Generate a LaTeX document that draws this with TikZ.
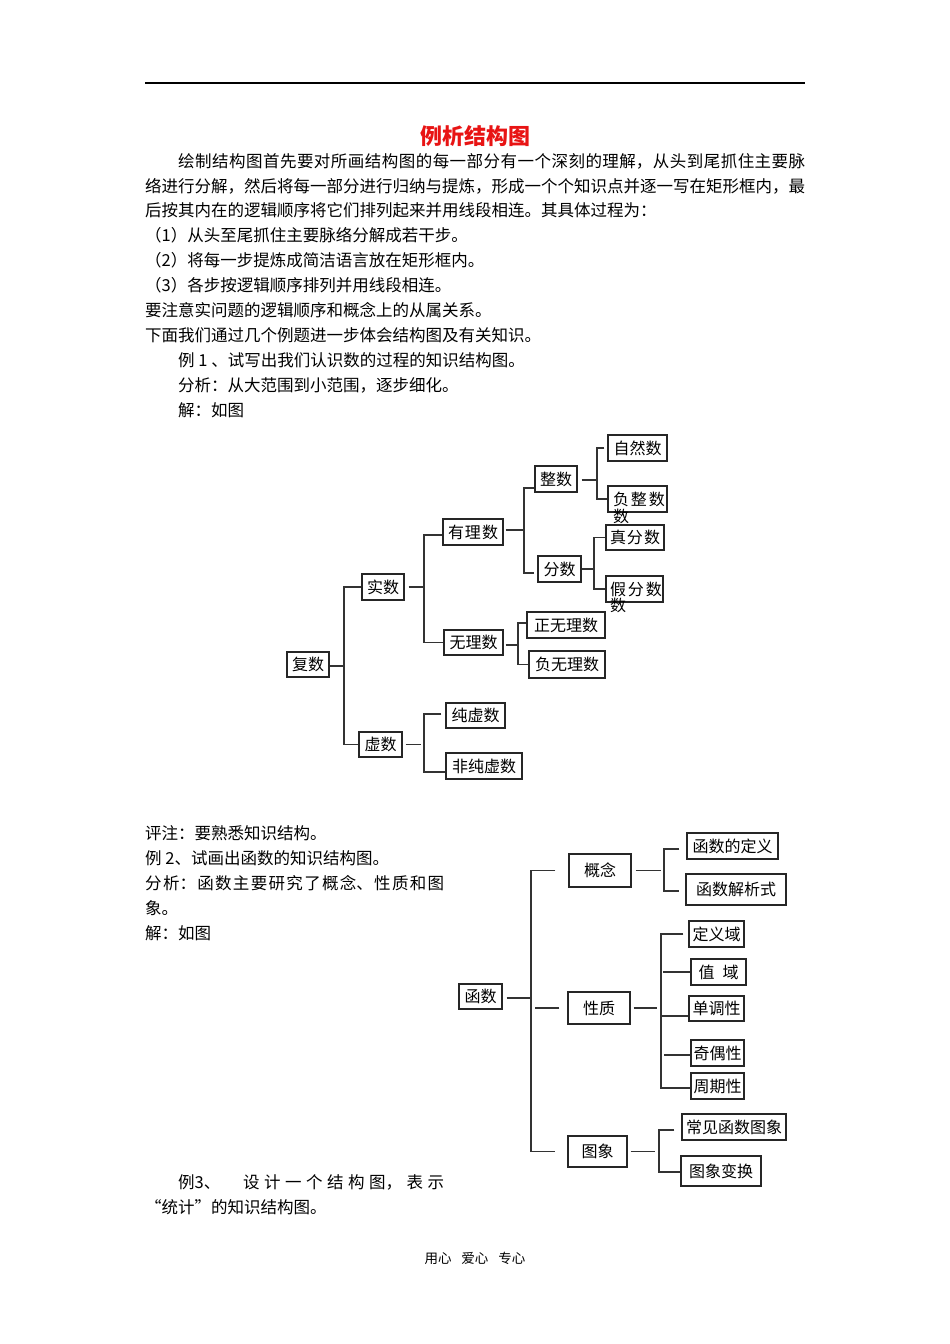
\documentclass[tikz,border=0pt]{standalone}
\usepackage{fontspec}
\setmainfont{Noto Sans CJK SC}
\definecolor{titlered}{RGB}{232,20,20}
\newcommand\jl[2]{\parbox[t]{#1}{\XeTeXlinebreaklocale "zh"\XeTeXlinebreakskip=0pt plus 5pt minus 1pt\parfillskip=0pt\parindent=0pt\leftskip=0pt\rightskip=0pt\noindent #2}}
\newcommand\bx[6]{\node[bx,minimum width={(#4-#2)*1pt},minimum height={(#5-#3)*1pt}] (#1) at ({(#2+#4)/2},{(#3+#5)/2}) {#6};}
\tikzset{
  bx/.style={draw=black!85, line width=1.3pt, inner sep=0pt, font=\fontsize{16}{19}\selectfont},
  ln/.style={draw=black!80, line width=1.3pt},
  tl/.style={anchor=base west, inner sep=0pt}
}
\begin{document}
\begin{tikzpicture}[x=1pt,y=-1pt,font=\fontsize{16.5}{20}\selectfont]
\useasboundingbox[fill=white] (0,0) rectangle (950,1344);
% header rule
\draw[line width=1.3pt] (145,83) -- (805,83);
% title
\node[font=\fontsize{22}{26}\selectfont\bfseries, text=titlered] (title) at (475,136) {例析结构图};
% body text
\node[tl] (t1) at (178,167) {\jl{627pt}{绘制结构图首先要对所画结构图的每一部分有一个深刻的理解，从头到尾抓住主要脉}};
\node[tl] (t2) at (145,192) {\jl{660pt}{络进行分解，然后将每一部分进行归纳与提炼，形成一个个知识点并逐一写在矩形框内，最}};
\node[tl] (t3) at (145,216) {后按其内在的逻辑顺序将它们排列起来并用线段相连。其具体过程为：};
\node[tl] (t4) at (145,241) {（1）从头至尾抓住主要脉络分解成若干步。};
\node[tl] (t5) at (145,266) {（2）将每一步提炼成简洁语言放在矩形框内。};
\node[tl] (t6) at (145,291) {（3）各步按逻辑顺序排列并用线段相连。};
\node[tl] (t7) at (145,316) {要注意实问题的逻辑顺序和概念上的从属关系。};
\node[tl] (t8) at (145,341) {下面我们通过几个例题进一步体会结构图及有关知识。};
\node[tl] (t9) at (178,366) {例 1 、试写出我们认识数的过程的知识结构图。};
\node[tl] (t10) at (178,391) {分析：从大范围到小范围，逐步细化。};
\node[tl] (t11) at (178,416) {解：如图};
% tree 1 boxes
\bx{fushu}{287}{652}{329}{677}{复数}
\bx{shishu}{362}{574}{404}{600}{实数}
\bx{xushu}{359}{732}{402}{757}{虚数}
\bx{youli}{443}{519}{503}{545}{有\kern1pt 理\kern1pt 数}
\bx{wuli}{444}{630}{503}{655}{无理数}
\bx{chunxu}{446}{703}{505}{728}{纯虚数}
\bx{feichunxu}{446}{753}{522}{779}{非纯虚数}
\bx{zhengshu}{535}{466}{577}{492}{整数}
\bx{fenshu}{538}{556}{581}{582}{分数}
\bx{ziran}{608}{435}{667}{461}{自然数}
\bx{fuzheng}{608}{486}{667}{512}{\hspace{3pt}负\kern2pt 整\kern2pt 数}
\bx{zhenfen}{606}{525}{664}{550}{真\kern1pt 分\kern1pt 数}
\bx{jiafen}{606}{576}{663}{602}{\hspace{3pt}假\kern2pt 分\kern2pt 数}
\bx{zhengwu}{527}{612}{605}{638}{正无理数}
\bx{fuwu}{529}{651}{605}{678}{负无理数}
\node[font=\fontsize{16}{19}\selectfont, inner sep=0pt] (fzx) at (621,516) {数};
\node[font=\fontsize{16}{19}\selectfont, inner sep=0pt] (jfx) at (618,605) {数};
% tree 1 spines
\coordinate (s1) at (344,0);
\coordinate (s2) at (424,0);
\coordinate (s3) at (524,0);
\coordinate (s4) at (597,0);
\coordinate (s5) at (594,0);
\coordinate (s6) at (518,0);
% tree 1 connectors
\draw[ln] ([yshift=-1.5pt]fushu.east) -- ([yshift=-1.5pt]fushu.east -| s1);
\draw[ln] (shishu.west) -- (shishu.west -| s1) -- (xushu.west -| s1) -- (xushu.west);
\draw[ln,shorten <=4pt] (shishu.east) -- (shishu.east -| s2);
\draw[ln] ([yshift=-3pt]youli.west) -- ([yshift=-3pt]youli.west -| s2) -- (wuli.west -| s2) -- (wuli.west);
\draw[ln,shorten <=3pt,shorten >=3pt] (xushu.east) -- (xushu.east -| s2);
\draw[ln,shorten <=4pt] ([yshift=1.5pt]chunxu.west) -- ([yshift=1.5pt]chunxu.west -| s2) -- ([yshift=-6pt]feichunxu.west -| s2) -- ([yshift=-6pt]feichunxu.west);
\draw[ln,shorten <=2pt] ([yshift=2pt]youli.east) -- ([yshift=2pt]youli.east -| s3);
\draw[ln,shorten >=3pt] ([yshift=-9pt]zhengshu.west) -- ([yshift=-9pt]zhengshu.west -| s3) -- ([yshift=-4pt]fenshu.west -| s3) -- ([yshift=-4pt]fenshu.west);
\draw[ln,shorten <=4pt] ([yshift=-1pt]zhengshu.east) -- ([yshift=-1pt]zhengshu.east -| s4);
\draw[ln,shorten <=3pt] (ziran.west) -- (ziran.west -| s4) -- (fuzheng.west -| s4) -- (fuzheng.west);
\draw[ln] (fenshu.east) -- (fenshu.east -| s5);
\draw[ln] (zhenfen.west) -- (zhenfen.west -| s5) -- (jiafen.west -| s5) -- (jiafen.west);
\draw[ln,shorten <=2pt] ([yshift=-2.5pt]wuli.east) -- ([yshift=-2.5pt]wuli.east -| s6);
\draw[ln] ([yshift=2pt]zhengwu.west) -- ([yshift=2pt]zhengwu.west -| s6) -- (fuwu.west -| s6) -- (fuwu.west);
% example 2 text
\node[tl] (u1) at (145,839) {评注：要熟悉知识结构。};
\node[tl] (u2) at (145,864) {例 2、试画出函数的知识结构图。};
\node[tl] (u3) at (145,889) {\jl{299pt}{分析：函数主要研究了概念、性质和图}};
\node[tl] (u4) at (145,914) {象。};
\node[tl] (u5) at (145,939) {解：如图};
% tree 2 boxes
\bx{hanshu}{459}{984}{502}{1009}{函数}
\bx{gainian}{569}{854}{631}{887}{概念}
\bx{xingzhi}{568}{992}{630}{1024}{性质}
\bx{tuxiang}{568}{1136}{627}{1167}{图象}
\bx{dingyi}{687}{833}{778}{859}{函数的定义}
\bx{jiexi}{686}{874}{786}{905}{函数解析式}
\bx{dingyiyu}{689}{921}{744}{947}{定义域}
\bx{zhiyu}{691}{959}{746}{985}{值\hspace{8pt}域\hspace{12pt}}
\bx{dandiao}{689}{996}{744}{1021}{单调性}
\bx{jiou}{691}{1040}{744}{1066}{奇偶性}
\bx{zhouqi}{691}{1073}{744}{1099}{周期性}
\bx{changjian}{682}{1114}{786}{1140}{常见函数图象}
\bx{bianhuan}{681}{1156}{761}{1186}{图象变换}
% tree 2 spines
\coordinate (s7) at (531,0);
\coordinate (s8) at (664,0);
\coordinate (s9) at (661,0);
\coordinate (s10) at (659,0);
% tree 2 connectors
\draw[ln,shorten <=4pt] ([yshift=-1.5pt]hanshu.east) -- ([yshift=-1.5pt]hanshu.east -| s7);
\draw[ln,shorten <=13pt,shorten >=12pt] (gainian.west) -- (gainian.west -| s7) -- (tuxiang.west -| s7) -- (tuxiang.west);
\draw[ln,shorten <=8pt,shorten >=4pt] (xingzhi.west) -- (xingzhi.west -| s7);
\draw[ln,shorten <=4pt,shorten >=3pt] (gainian.east) -- (gainian.east -| s8);
\draw[ln,shorten <=7pt,shorten >=6pt] ([yshift=-3pt]dingyi.west) -- ([yshift=-3pt]dingyi.west -| s8) -- ([yshift=-1.5pt]jiexi.west -| s8) -- ([yshift=-1.5pt]jiexi.west);
\draw[ln,shorten <=3pt,shorten >=4pt] (xingzhi.east) -- (xingzhi.east -| s9);
\draw[ln,shorten <=5pt] (dingyiyu.west) -- (dingyiyu.west -| s9) -- ([yshift=-2pt]zhouqi.west -| s9) -- ([yshift=-2pt]zhouqi.west);
\draw[ln,shorten >=2pt] (zhiyu.west) -- (zhiyu.west -| s9);
\draw[ln] ([yshift=-7.5pt]dandiao.west) -- ([yshift=-7.5pt]dandiao.west -| s9);
\draw[ln,shorten >=3pt] ([yshift=-2pt]jiou.west) -- ([yshift=-2pt]jiou.west -| s9);
\draw[ln,shorten <=3pt,shorten >=4pt] (tuxiang.east) -- (tuxiang.east -| s10);
\draw[ln,shorten <=7pt] ([yshift=-3pt]changjian.west) -- ([yshift=-3pt]changjian.west -| s10) -- ([yshift=-1pt]bianhuan.west -| s10) -- ([yshift=-1pt]bianhuan.west);
% example 3
\node[tl] (v1) at (178,1188) {例3、};
\node[tl] (v2) at (243,1188) {\jl{201pt}{设计一个结构图，表示}};
\node[tl] (v3) at (145,1213) {“统计”的知识结构图。};
% footer
\node[font=\fontsize{13.5}{16}\selectfont] (foot) at (475,1258) {用心\hspace{10pt}爱心\hspace{10pt}专心};
\end{tikzpicture}
\end{document}
